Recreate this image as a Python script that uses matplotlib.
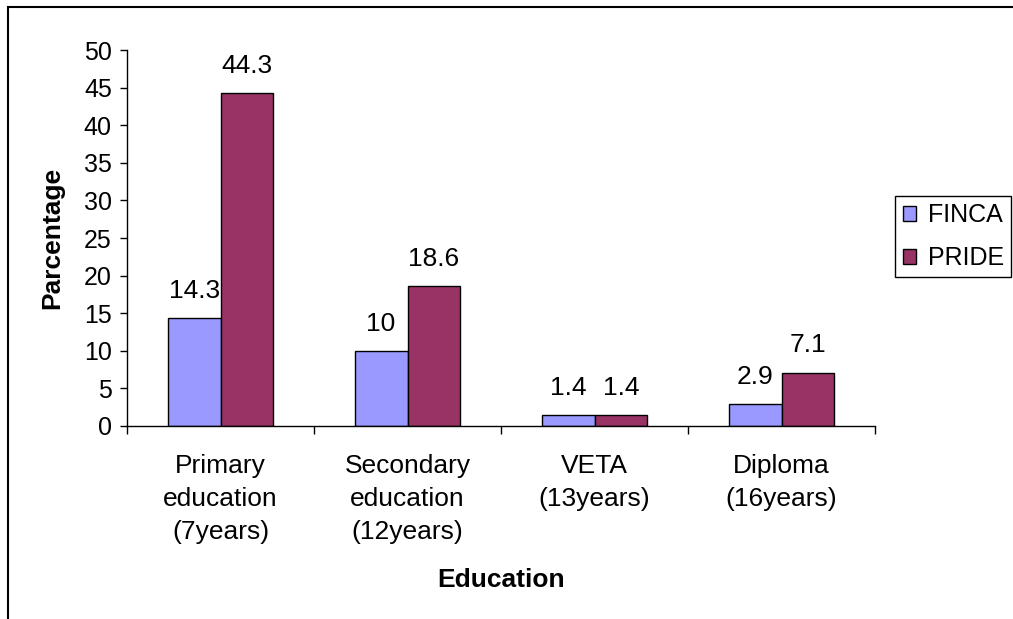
import numpy as np
import matplotlib.pyplot as plt
from matplotlib.patches import Rectangle

plt.rcParams['font.family'] = ['Liberation Sans', 'DejaVu Sans']

# Data
categories = ['Primary\neducation\n(7years)', 'Secondary\neducation\n(12years)',
              'VETA\n(13years)', 'Diploma\n(16years)']
finca = [14.3, 10, 1.4, 2.9]
pride = [44.3, 18.6, 1.4, 7.1]
finca_labels = ['14.3', '10', '1.4', '2.9']
pride_labels = ['44.3', '18.6', '1.4', '7.1']

fig = plt.figure(figsize=(10.13, 6.19), dpi=100)
ax = fig.add_axes([0.1254, 0.3118, 0.7384, 0.6074])

# Outer frame (only left and top visible in the original)
fig.patches.append(Rectangle((8 / 1013, -0.05), 1.1, 1 - 7 / 619 + 0.05,
                             transform=fig.transFigure, fill=False,
                             edgecolor='black', linewidth=1.5))

x = np.arange(len(categories))
w = 0.283
b1 = ax.bar(x - w / 2, finca, w, color='#9999FF', edgecolor='black',
            linewidth=1, label='FINCA')
b2 = ax.bar(x + w / 2, pride, w, color='#993366', edgecolor='black',
            linewidth=1, label='PRIDE')

for bars, labs in ((b1, finca_labels), (b2, pride_labels)):
    for r, lab in zip(bars, labs):
        ax.annotate(lab, (r.get_x() + r.get_width() / 2, r.get_height()),
                    xytext=(0, 11), textcoords='offset points',
                    ha='center', va='bottom', fontsize=19)

ax.set_xlim(-0.5, 3.5)
ax.set_ylim(0, 50)
ax.set_yticks(range(0, 51, 5))
ax.tick_params(axis='y', labelsize=18, length=5, width=1, direction='out', pad=6)

# category boundaries as major ticks, labels as minor ticks
ax.set_xticks(np.arange(-0.5, 4, 1))
ax.set_xticklabels([])
ax.set_xticks(x, minor=True)
ax.set_xticklabels(categories, minor=True, fontsize=19, linespacing=1.48)
ax.tick_params(axis='x', which='major', length=6, width=1, direction='out')
ax.tick_params(axis='x', which='minor', length=0, pad=20)

for s in ('top', 'right'):
    ax.spines[s].set_visible(False)
ax.spines['left'].set_linewidth(1)
ax.spines['bottom'].set_linewidth(1)

ax.set_ylabel('Parcentage', fontsize=19, fontweight='bold', labelpad=14)
ax.set_xlabel('Education', fontsize=19, fontweight='bold', labelpad=17)

ax.legend(loc='center left', bbox_to_anchor=(895 / 1013, 1 - 236.5 / 619),
          bbox_transform=fig.transFigure, fontsize=18,
          frameon=True, fancybox=False, edgecolor='black', framealpha=1,
          handlelength=0.55, handleheight=0.55, handletextpad=0.45,
          labelspacing=0.75, borderpad=0.3, borderaxespad=0)

fig.savefig('out.png', dpi=100)
